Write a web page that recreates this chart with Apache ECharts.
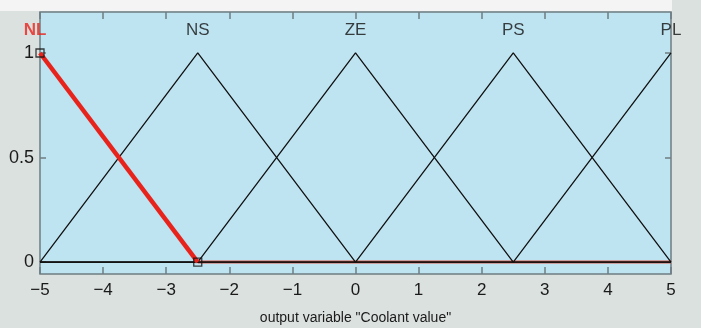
<!DOCTYPE html>
<html>
<head>
<meta charset="utf-8">
<script src="https://cdn.jsdelivr.net/npm/echarts@6/dist/echarts.min.js"></script>
<style>
html,body{margin:0;padding:0;background:#dbe1de;}
#chart{width:701px;height:328px;}
</style>
</head>
<body>
<div id="chart"></div>
<script>
// Membership functions
var mfNames = ['NL', 'NS', 'ZE', 'PS', 'PL'];
var mfPeaks = [-5, -2.5, 0, 2.5, 5];
var mfLabelY = 1.11;
var nlSlope = [[-5, 1], [-2.5, 0]];
var nlFlat = [[-2.5, 0], [5, 0]];
var nsPoints = [[-5, 0], [-2.5, 1], [0, 0], [5, 0]];
var zePoints = [[-5, 0], [-2.5, 0], [0, 1], [2.5, 0], [5, 0]];
var psPoints = [[-5, 0], [0, 0], [2.5, 1], [5, 0]];
var plPoints = [[-5, 0], [2.5, 0], [5, 1]];
var squareMarks = [[-2.5, 0], [-5, 1]];
var xTicks = [-5, -4, -3, -2, -1, 0, 1, 2, 3, 4, 5];
var yTicks = [0, 0.5, 1];
var xTitle = 'output variable "Coolant value"';

var chart = echarts.init(document.getElementById('chart'));
var font = '"Liberation Sans", Arial, sans-serif';
var tickColor = '#6f7d83';
function blackLine(name, pts) {
  return {name: name, type: 'line', data: pts, symbol: 'none', silent: true,
    lineStyle: {color: '#111', width: 1.3}, z: 3};
}
var labelData = mfNames.map(function (n, i) {
  var d = {value: [mfPeaks[i], mfLabelY, n]};
  if (i === 0) d.label = {color: '#e8231c', fontWeight: 'bold', offset: [-5, 0]};
  return d;
});
chart.setOption({
  backgroundColor: '#dbe1de',
  animation: false,
  graphic: [{type: 'rect', shape: {x: 0, y: 0, width: 672, height: 11}, style: {fill: '#f3f4f3'}, z: -10}],
  grid: {left: 40, right: 30, top: 12, bottom: 54, show: true, backgroundColor: '#bee3f1',
    borderColor: tickColor, borderWidth: 1.5, outerBoundsMode: 'none', containLabel: false},
  xAxis: [{
    type: 'value', min: -5, max: 5, interval: 1, position: 'bottom',
    axisLine: {show: false, onZero: false}, splitLine: {show: false},
    axisTick: {inside: true, length: 7, lineStyle: {color: tickColor, width: 1.5}},
    axisLabel: {fontFamily: font, fontSize: 17, color: '#1a1a1a', margin: 8,
      formatter: function (v) { return v < 0 ? '\u2212' + Math.abs(v) : String(v); }},
    name: xTitle, nameLocation: 'middle', nameGap: 37,
    nameTextStyle: {fontFamily: font, fontSize: 14, color: '#1a1a1a'}
  }, {
    type: 'value', min: -5, max: 5, interval: 1, position: 'top',
    axisLine: {show: false, onZero: false}, splitLine: {show: false}, axisLabel: {show: false},
    axisTick: {inside: true, length: 7, lineStyle: {color: tickColor, width: 1.5}}
  }],
  yAxis: [{
    type: 'value', min: -0.057, max: 1.196, position: 'left',
    axisLine: {show: false, onZero: false}, splitLine: {show: false},
    axisTick: {inside: true, length: 6, customValues: yTicks, lineStyle: {color: tickColor, width: 1.5}},
    axisLabel: {fontFamily: font, fontSize: 18, color: '#1a1a1a', margin: 6, customValues: yTicks}
  }, {
    type: 'value', min: -0.057, max: 1.196, position: 'right',
    axisLine: {show: false, onZero: false}, splitLine: {show: false}, axisLabel: {show: false},
    axisTick: {inside: true, length: 6, customValues: yTicks, lineStyle: {color: tickColor, width: 1.5}}
  }],
  series: [
    {name: 'NL flat', type: 'line', data: nlFlat, symbol: 'none', silent: true,
      lineStyle: {color: '#d8584a', width: 3}, z: 2},
    blackLine('NS', nsPoints),
    blackLine('ZE', zePoints),
    blackLine('PS', psPoints),
    blackLine('PL', plPoints),
    {name: 'NL', type: 'line', data: nlSlope, symbol: 'none', silent: true,
      lineStyle: {color: '#e8231c', width: 4.5}, z: 4},
    {name: 'marks', type: 'scatter', data: squareMarks, symbol: 'rect', symbolSize: 8, silent: true,
      itemStyle: {color: 'rgba(0,0,0,0)', borderColor: '#111', borderWidth: 1.3}, z: 5},
    {name: 'labels', type: 'scatter', data: labelData, symbolSize: 1, silent: true,
      itemStyle: {color: 'rgba(0,0,0,0)'},
      label: {show: true, position: 'top', distance: -9, fontFamily: font, fontSize: 17,
        formatter: function (p) { return p.value[2]; },
        color: '#111'}, z: 6}
  ]
});
</script>
</body>
</html>
